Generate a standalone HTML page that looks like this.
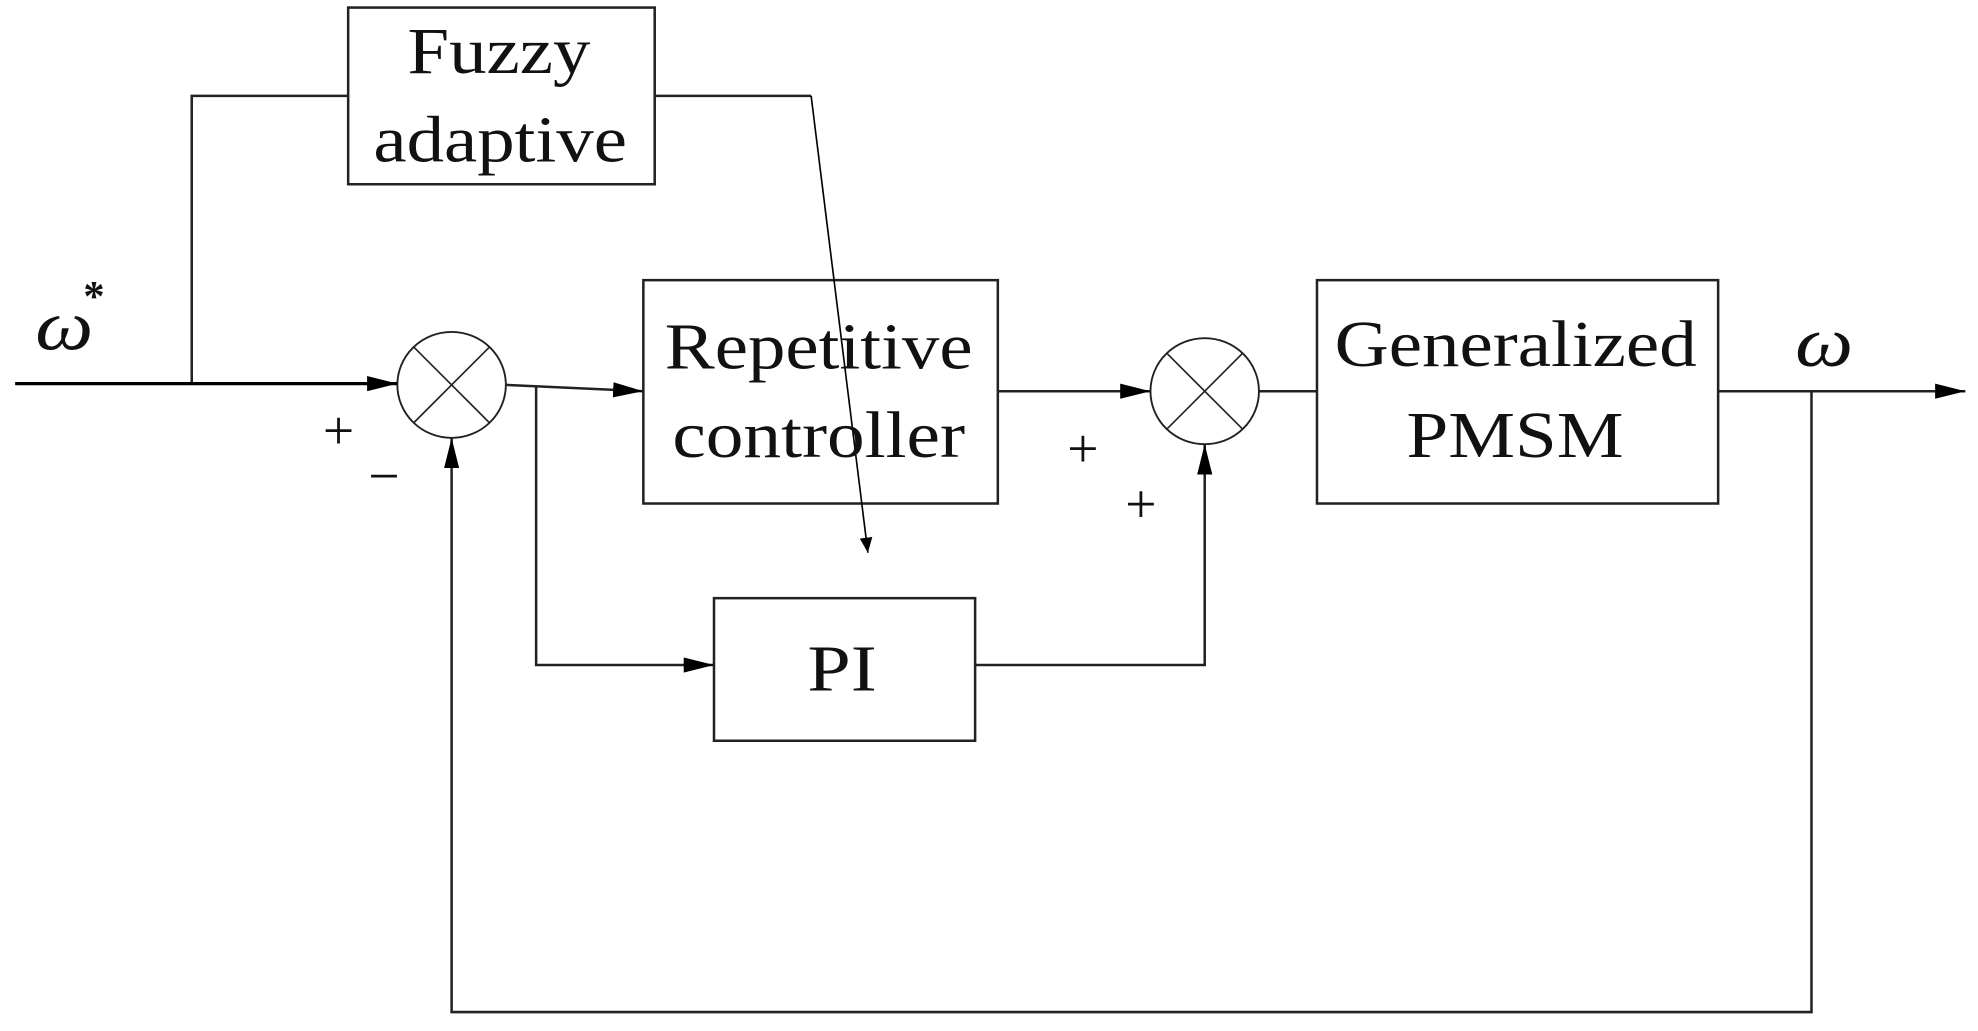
<!DOCTYPE html>
<html><head><meta charset="utf-8"><style>html,body{margin:0;padding:0;background:#fff}svg{display:block}</style></head>
<body>
<svg width="1978" height="1031" viewBox="0 0 1568 817" preserveAspectRatio="none" xmlns="http://www.w3.org/2000/svg">
<defs><marker id="a" markerWidth="12" markerHeight="10" refX="12" refY="5" orient="auto" markerUnits="userSpaceOnUse"><path d="M0,0 L12,5 L0,10 z" fill="#000"/></marker>
<marker id="b" markerWidth="24" markerHeight="12" refX="24" refY="6" orient="auto" markerUnits="userSpaceOnUse"><path d="M0,0 L24,6 L0,12 z" fill="#000"/></marker></defs>
<g fill="none" stroke="#222" stroke-width="2">
<rect x="276" y="6" width="243" height="140"/>
<rect x="510" y="222" width="281" height="177"/>
<rect x="1044" y="222" width="318" height="177"/>
<rect x="566" y="474" width="207" height="113"/>
<ellipse cx="358" cy="305" rx="43" ry="42" stroke-width="1.5"/>
<line x1="328" y1="275" x2="388" y2="335" stroke-width="1.3"/><line x1="388" y1="275" x2="328" y2="335" stroke-width="1.3"/>
<ellipse cx="955" cy="310" rx="43" ry="42" stroke-width="1.5"/>
<line x1="925" y1="280" x2="985" y2="340" stroke-width="1.3"/><line x1="985" y1="280" x2="925" y2="340" stroke-width="1.3"/>
<polyline points="152,304 152,76 276,76"/>
<line x1="12" y1="304" x2="315" y2="304" stroke="#000" stroke-width="2.5" marker-end="url(#b)"/>
<polyline points="519,76 643,76"/>
<line x1="643" y1="76" x2="688" y2="438" stroke="#000" stroke-width="1.3" marker-end="url(#a)"/>
<line x1="401" y1="305" x2="510" y2="310" marker-end="url(#b)"/>
<polyline points="425,307 425,527 566,527" marker-end="url(#b)"/>
<line x1="791" y1="310" x2="912" y2="310" marker-end="url(#b)"/>
<line x1="998" y1="310" x2="1044" y2="310"/>
<line x1="1362" y1="310" x2="1558" y2="310" marker-end="url(#b)"/>
<polyline points="1436,310 1436,802 358,802 358,347" marker-end="url(#b)"/>
<polyline points="773,527 955,527 955,352" marker-end="url(#b)"/>
</g>
<g font-family="Liberation Serif, serif" font-size="52" fill="#111">
<text x="323" y="58" textLength="145" lengthAdjust="spacingAndGlyphs">Fuzzy</text>
<text x="296" y="128" textLength="201" lengthAdjust="spacingAndGlyphs">adaptive</text>
<text x="527" y="292" textLength="244" lengthAdjust="spacingAndGlyphs">Repetitive</text>
<text x="533" y="362" textLength="232" lengthAdjust="spacingAndGlyphs">controller</text>
<text x="1058" y="290" textLength="287" lengthAdjust="spacingAndGlyphs">Generalized</text>
<text x="1115" y="362" textLength="172" lengthAdjust="spacingAndGlyphs">PMSM</text>
<text x="640" y="547" textLength="55" lengthAdjust="spacingAndGlyphs">PI</text>
<text x="28" y="277" font-style="italic" font-size="56" textLength="46" lengthAdjust="spacingAndGlyphs">ω</text>
<text x="66" y="246" font-size="34" font-weight="bold">*</text>
<text x="1423" y="290" font-style="italic" font-size="56" textLength="46" lengthAdjust="spacingAndGlyphs">ω</text>
<text x="256" y="356" font-size="44">+</text>
<text x="292" y="392" font-size="44">−</text>
<text x="846" y="370" font-size="44">+</text>
<text x="892" y="414" font-size="44">+</text>
</g>
</svg>
</body></html>
